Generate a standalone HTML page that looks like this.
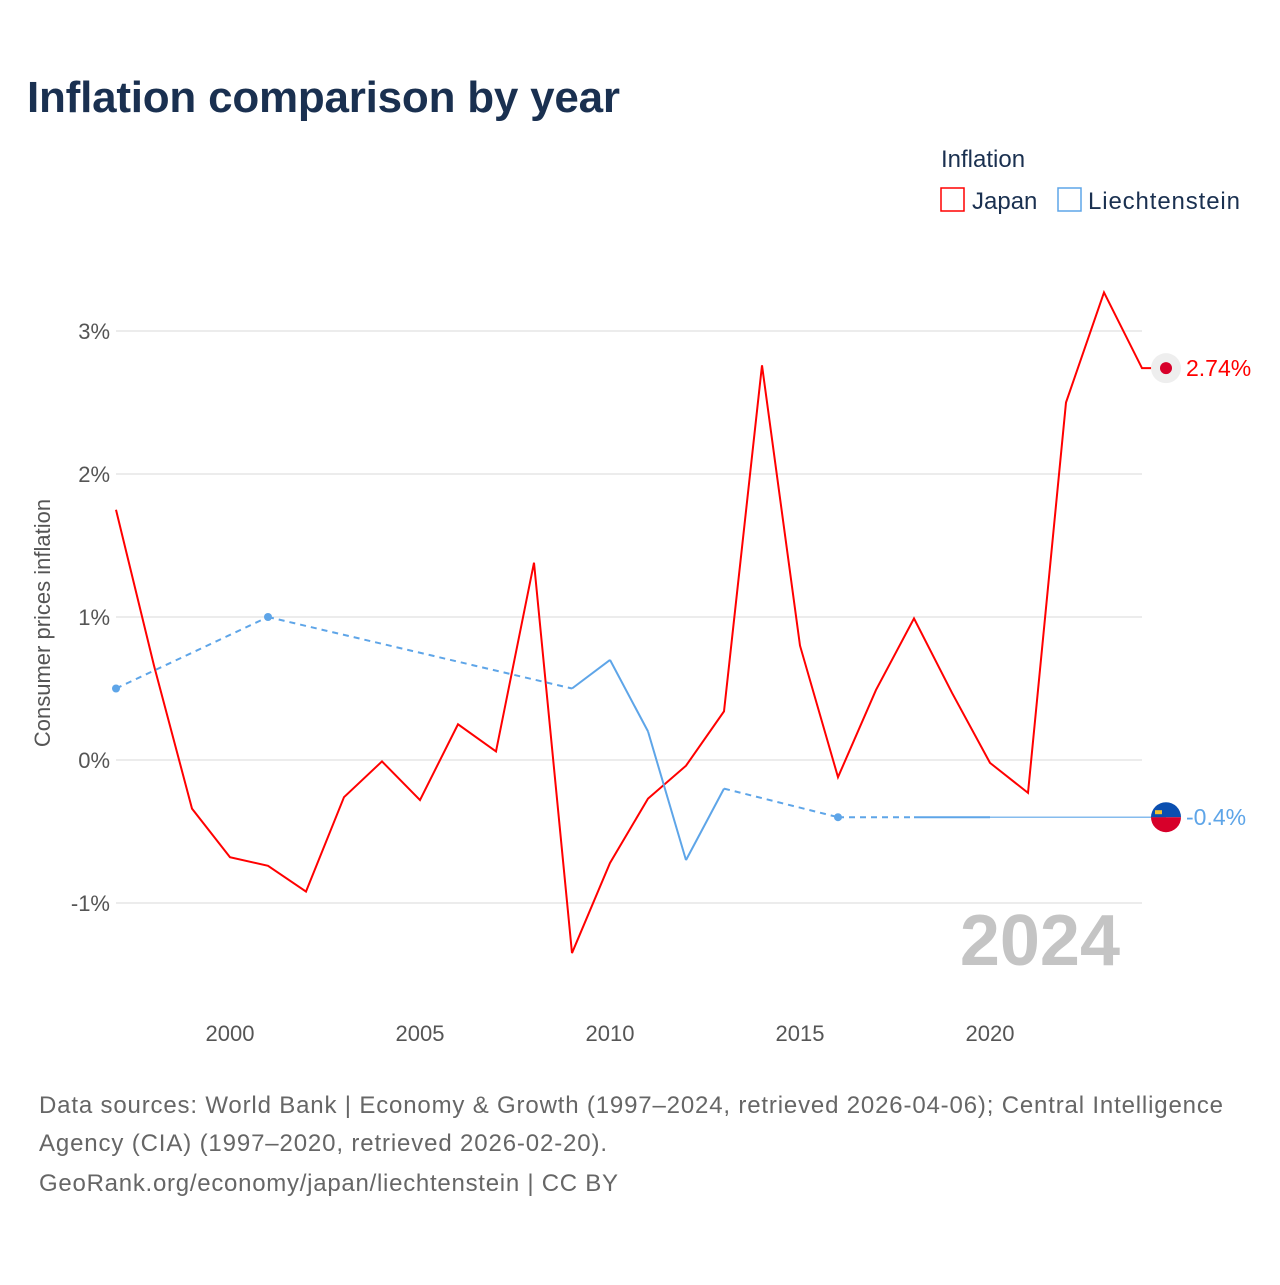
<!DOCTYPE html>
<html><head><meta charset="utf-8"><style>
body{margin:0;background:#fff;font-family:"Liberation Sans",sans-serif}
svg text{font-family:"Liberation Sans",sans-serif}
</style></head><body>
<svg id="c" width="1280" height="1280">
<text x="27" y="112" font-size="44" font-weight="bold" fill="#1a3050" textLength="593">Inflation comparison by year</text>
<g>
<text x="941" y="167" font-size="24" fill="#1a3050">Inflation</text>
<g><rect x="941" y="188" width="23" height="23" fill="none" stroke="#f00" stroke-width="1.5"/><text x="972" y="209" font-size="24" fill="#1a3050">Japan</text></g>
<g><rect x="1058" y="188" width="23" height="23" fill="none" stroke="#5ea5e8" stroke-width="1.5"/><text x="1088" y="209" font-size="24" fill="#1a3050" textLength="152">Liechtenstein</text></g>
</g>
<text transform="translate(50,623) rotate(-90)" text-anchor="middle" font-size="22" fill="#555">Consumer prices inflation</text>
<text x="1120" y="965" text-anchor="end" font-size="72" font-weight="bold" fill="#c4c4c4">2024</text>
<g id="grid"></g><g id="plot"></g>
<g font-size="24" fill="#666">
<text x="39" y="1113" textLength="1184">Data sources: World Bank | Economy &amp; Growth (1997–2024, retrieved 2026-04-06); Central Intelligence</text>
<text x="39" y="1151" textLength="568">Agency (CIA) (1997–2020, retrieved 2026-02-20).</text>
<text x="39" y="1191" textLength="579">GeoRank.org/economy/japan/liechtenstein | CC BY</text>
</g>
</svg>
<script>
const years=[1997,1998,1999,2000,2001,2002,2003,2004,2005,2006,2007,2008,2009,2010,2011,2012,2013,2014,2015,2016,2017,2018,2019,2020,2021,2022,2023,2024];
const japan=[1.75,0.66,-0.34,-0.68,-0.74,-0.92,-0.26,-0.01,-0.28,0.25,0.06,1.38,-1.35,-0.72,-0.27,-0.04,0.34,2.76,0.80,-0.12,0.49,0.99,0.47,-0.02,-0.23,2.50,3.27,2.74];
const liech=[0.5,null,null,null,1.0,null,null,null,null,null,null,null,0.5,0.7,0.2,-0.7,-0.2,null,null,-0.4,null,-0.4,-0.4,-0.4,null,null,null,null];
const yTicks=[-1,0,1,2,3];
const xTicks=[2000,2005,2010,2015,2020];
const X=y=>116+(y-1997)*38, Y=v=>760-v*143;
const NS="http://www.w3.org/2000/svg";
function mk(t,a,p){const e=document.createElementNS(NS,t);for(const k in a)e.setAttribute(k,a[k]);p.appendChild(e);return e;}
const grid=document.getElementById('grid'),plot=document.getElementById('plot');
yTicks.forEach(v=>{
 const l=mk('line',{x1:116,x2:1142,y1:Y(v),y2:Y(v),stroke:'#e6e6e6','stroke-width':1.5},grid);
 
 
 const t=mk('text',{x:110,y:Y(v)+8,'text-anchor':'end','font-size':22,fill:'#555'},grid);
 t.textContent=v+'%';
 
 
});
xTicks.forEach(y=>{
 const t=mk('text',{x:X(y),y:1041,'text-anchor':'middle','font-size':22,fill:'#555'},grid);
 t.textContent=y;
 
 
});
let d=japan.map((v,i)=>(i?'L':'M')+X(years[i])+','+Y(v)).join('')+'L1166,'+Y(japan[japan.length-1]);
const jl=mk('path',{d:d,fill:'none',stroke:'#f00','stroke-width':2},plot);


const pts=[];liech.forEach((v,i)=>{if(v!==null)pts.push([years[i],v,i]);});
for(let k=0;k<pts.length-1;k++){
 const a=pts[k],b=pts[k+1];const dashed=b[2]-a[2]>1;
 const s=mk('line',{x1:X(a[0]),y1:Y(a[1]),x2:X(b[0]),y2:Y(b[1]),stroke:'#5ea5e8','stroke-width':2},plot);
 if(dashed)s.setAttribute('stroke-dasharray','6,5');
 
 
}
pts.forEach(p=>{
 const prev=liech[p[2]-1],next=liech[p[2]+1];
 if((prev===null||prev===undefined)&&(next===null||next===undefined)){
  const c=mk('circle',{cx:X(p[0]),cy:Y(p[1]),r:4,fill:'#5ea5e8'},plot);
  
  
 }
});
const lastL=pts[pts.length-1];
const ext=mk('line',{x1:X(lastL[0]),y1:Y(lastL[1]),x2:1166,y2:Y(lastL[1]),stroke:'#5ea5e8','stroke-width':1.2},plot);


const jv=japan[japan.length-1],jy=Y(jv);
const jm=mk('g',{},plot);


mk('circle',{cx:1166,cy:jy,r:15,fill:'#eee'},jm);mk('circle',{cx:1166,cy:jy,r:6,fill:'#d7002a'},jm);
const jt=mk('text',{x:1186,y:jy+8,'font-size':23,fill:'#f00'},plot);jt.textContent=jv.toFixed(2)+'%';


const ly=Y(lastL[1]);
const lm=mk('g',{},plot);


mk('path',{d:`M1151,${ly}A15,15 0 0 1 1181,${ly}Z`,fill:'#0a4fb0'},lm);
mk('path',{d:`M1151,${ly}A15,15 0 0 0 1181,${ly}Z`,fill:'#d7002a'},lm);
mk('rect',{x:1155,y:ly-7,width:7,height:4,fill:'#f2c230'},lm);
const lt=mk('text',{x:1186,y:ly+8,'font-size':23,fill:'#5ea5e8'},plot);lt.textContent=lastL[1]+'%';


</script>
</body></html>
